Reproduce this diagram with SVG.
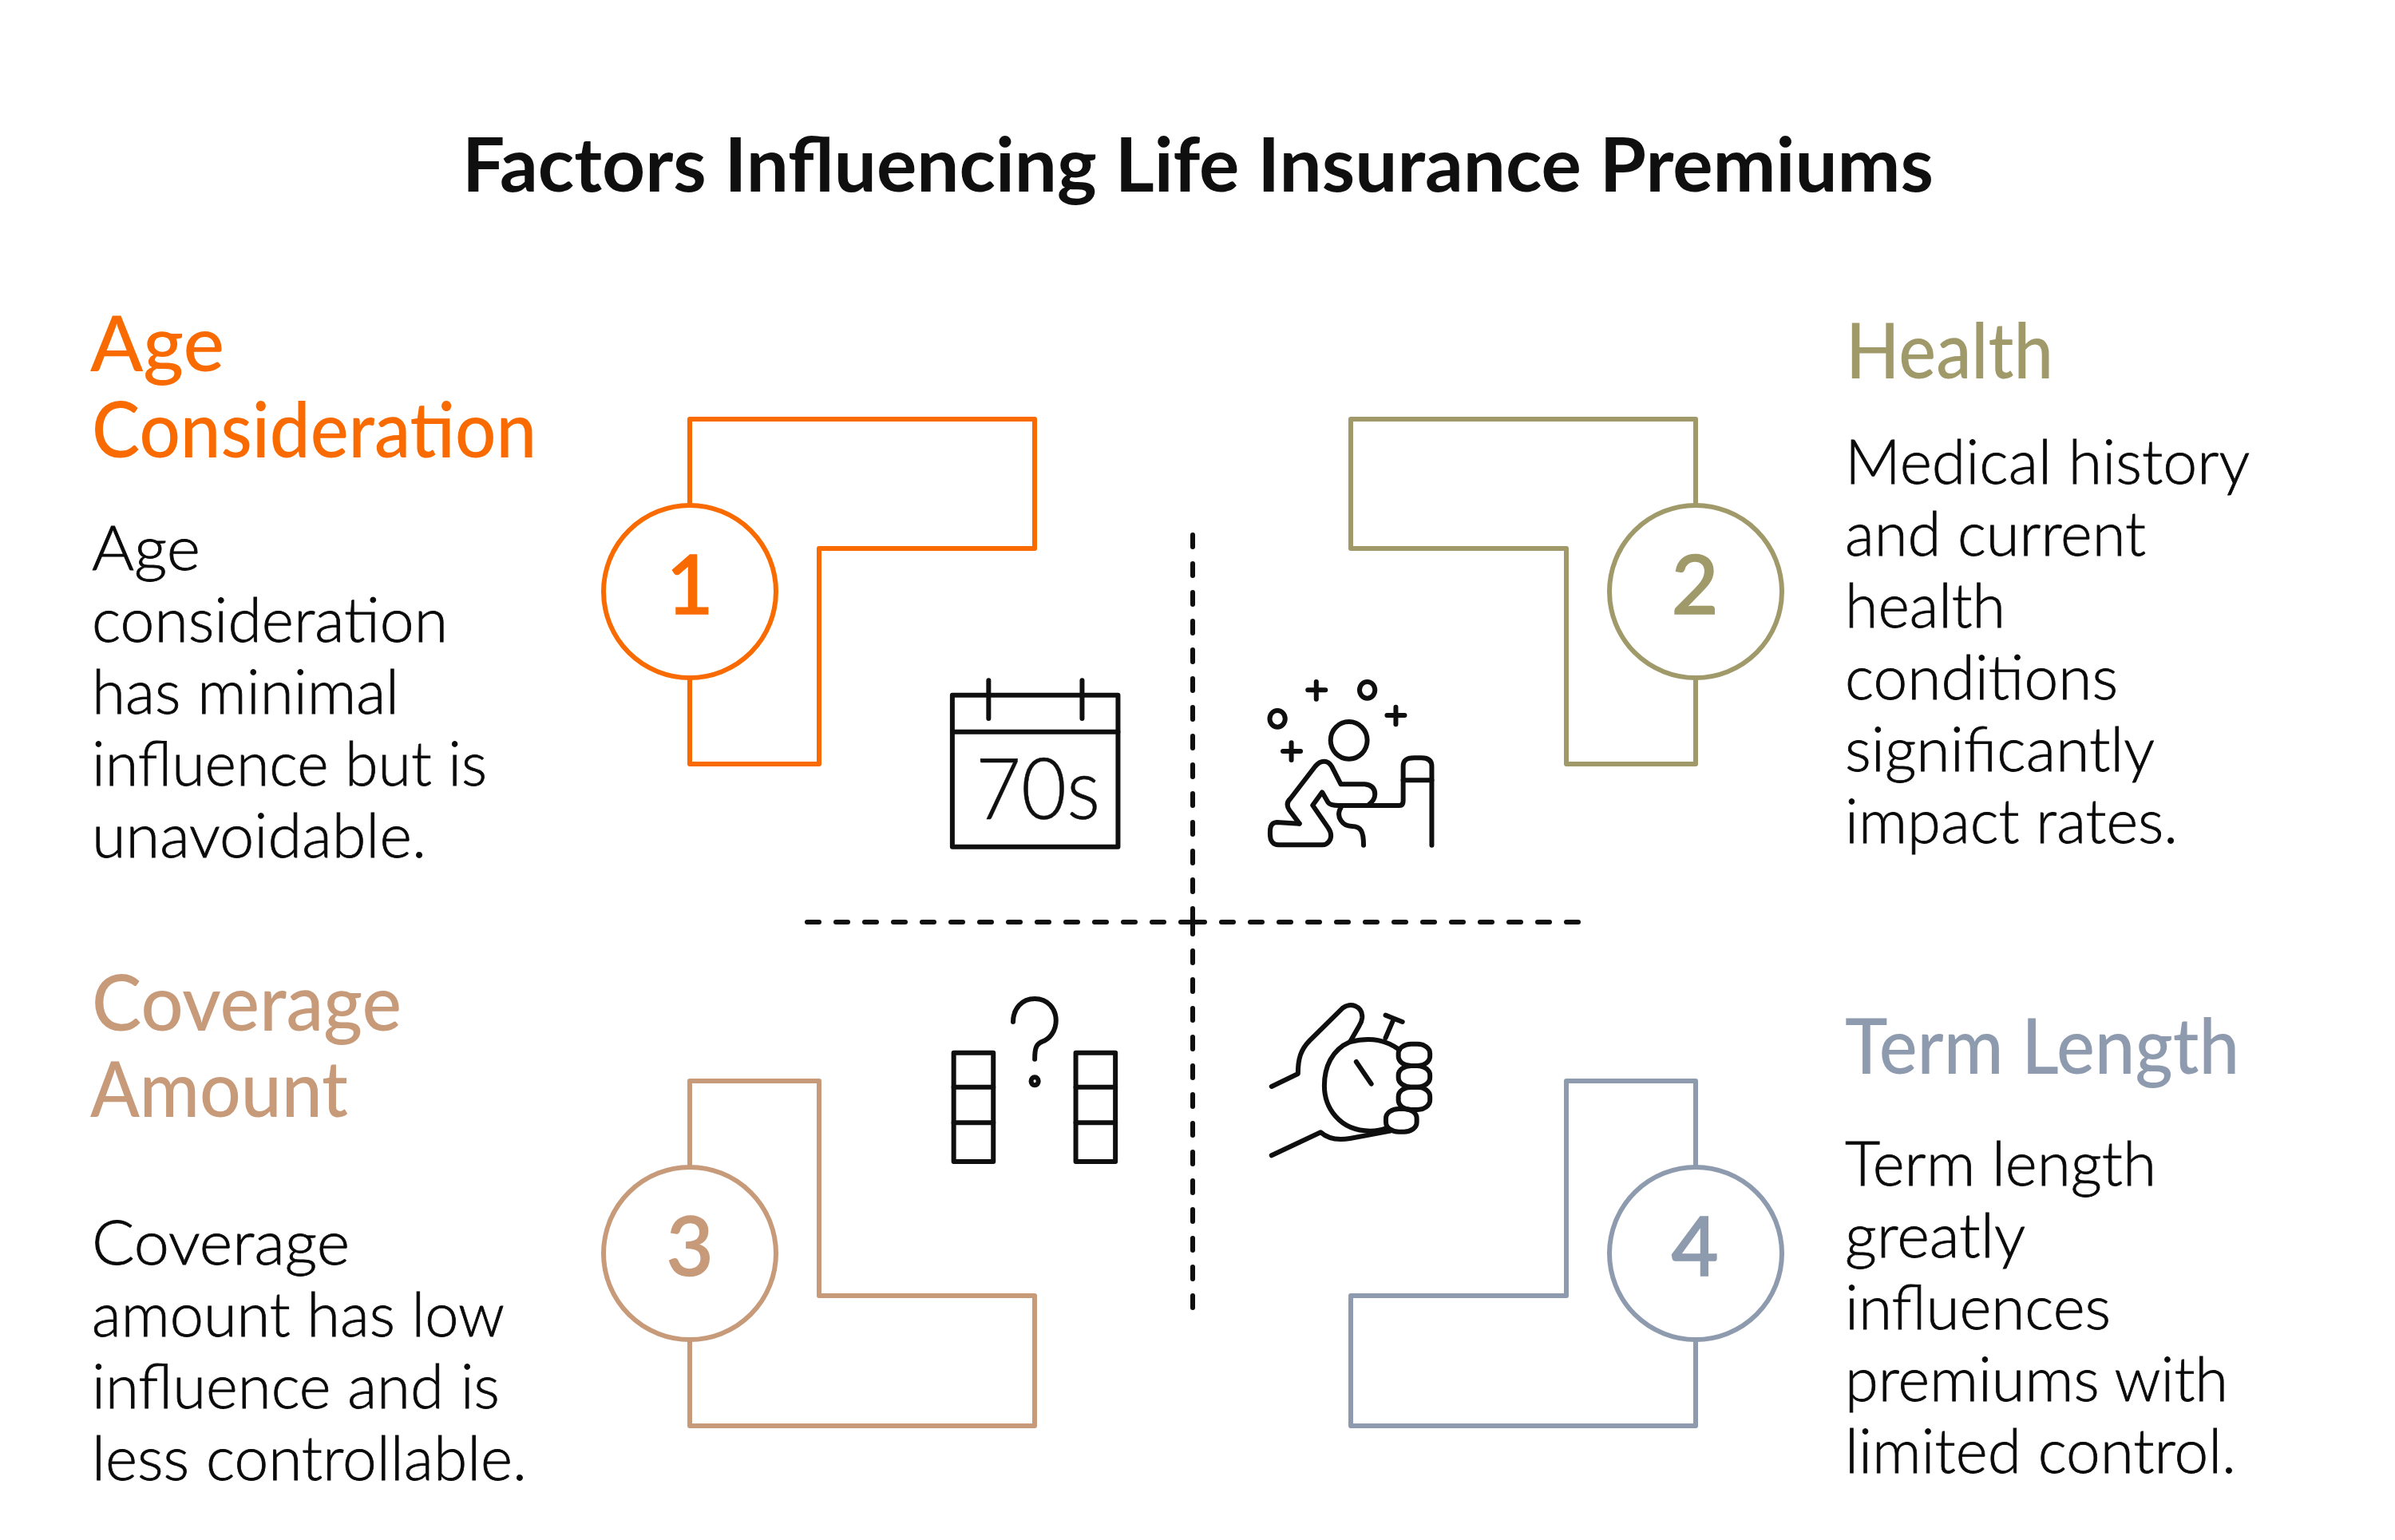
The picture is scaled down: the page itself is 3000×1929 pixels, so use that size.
<svg xmlns="http://www.w3.org/2000/svg" width="3000" height="1929" viewBox="0 0 3000 1929">
<style>
text{font-family:"Lato","Noto Sans",sans-serif}
.title{font-size:94px;font-weight:700;fill:#0f0f0f}
.head{font-size:96px;font-weight:500}
.body{font-size:76px;font-weight:300;fill:#0a0a0a;stroke:#0a0a0a;stroke-width:.8}
.num{font-size:102px;text-anchor:middle;font-weight:500;stroke-width:1.5}
.o{fill:#F96A00;stroke:#F96A00}.g{fill:#A09A6B;stroke:#A09A6B}.t{fill:#C79A7A;stroke:#C79A7A}.s{fill:#8E9BAE;stroke:#8E9BAE}
.head.o,.head.g,.head.t,.head.s{stroke:none}
.shape{fill:none;stroke-width:6;stroke-linejoin:round}
.circ{fill:#fff;stroke-width:6}
.ic{fill:none;stroke:#0f0f0f;stroke-width:6;stroke-linecap:round;stroke-linejoin:round}
.ic *{vector-effect:non-scaling-stroke}
.dash{fill:none;stroke:#0f0f0f;stroke-width:6;stroke-dasharray:15 21;stroke-linecap:round}
</style>
<rect width="3000" height="1929" fill="#fff"/>
<text class="title" x="579" y="240" textLength="1843" lengthAdjust="spacingAndGlyphs">Factors Influencing Life Insurance Premiums</text>

<g id="connectors">
<path class="dash" d="M1494 670V1152"/>
<path class="dash" d="M1494 1155V1638"/>
<path class="dash" d="M1011 1155H1494"/>
<path class="dash" d="M1494 1155H1977"/>
</g>

<g id="node1">
<path class="shape" stroke="#F96A00" d="M864 957V525H1296V687H1026V957Z"/>
<circle class="circ" cx="864" cy="741" r="108" stroke="#F96A00"/>
<text class="num o" x="864" y="769">1</text>
<text class="head o" x="113" y="465" textLength="168" lengthAdjust="spacingAndGlyphs">Age</text>
<text class="head o" x="115" y="573" textLength="557" lengthAdjust="spacingAndGlyphs">Consideration</text>
<text class="body" x="115" y="714" textLength="136" lengthAdjust="spacingAndGlyphs">Age</text>
<text class="body" x="115" y="804" textLength="446" lengthAdjust="spacingAndGlyphs">consideration</text>
<text class="body" x="115" y="894" textLength="385" lengthAdjust="spacingAndGlyphs">has minimal</text>
<text class="body" x="115" y="984" textLength="495" lengthAdjust="spacingAndGlyphs">influence but is</text>
<text class="body" x="115" y="1074" textLength="419" lengthAdjust="spacingAndGlyphs">unavoidable.</text>
</g>

<g id="node2">
<path class="shape" stroke="#A09A6B" d="M2124 957V525H1692V687H1962V957Z"/>
<circle class="circ" cx="2124" cy="741" r="108" stroke="#A09A6B"/>
<text class="num g" x="2123" y="769">2</text>
<text class="head g" x="2312" y="474" textLength="260" lengthAdjust="spacingAndGlyphs">Health</text>
<text class="body" x="2311" y="606" textLength="507" lengthAdjust="spacingAndGlyphs">Medical history</text>
<text class="body" x="2311" y="696" textLength="377" lengthAdjust="spacingAndGlyphs">and current</text>
<text class="body" x="2311" y="786" textLength="201" lengthAdjust="spacingAndGlyphs">health</text>
<text class="body" x="2311" y="876" textLength="342" lengthAdjust="spacingAndGlyphs">conditions</text>
<text class="body" x="2311" y="966" textLength="388" lengthAdjust="spacingAndGlyphs">significantly</text>
<text class="body" x="2311" y="1056" textLength="417" lengthAdjust="spacingAndGlyphs">impact rates.</text>
</g>

<g id="node3">
<path class="shape" stroke="#C79A7A" d="M864 1786V1354H1026V1623H1296V1786Z"/>
<circle class="circ" cx="864" cy="1570" r="108" stroke="#C79A7A"/>
<text class="num t" x="864" y="1598">3</text>
<text class="head t" x="115" y="1291" textLength="388" lengthAdjust="spacingAndGlyphs">Coverage</text>
<text class="head t" x="113" y="1399" textLength="323" lengthAdjust="spacingAndGlyphs">Amount</text>
<text class="body" x="115" y="1584" textLength="323" lengthAdjust="spacingAndGlyphs">Coverage</text>
<text class="body" x="115" y="1674" textLength="517" lengthAdjust="spacingAndGlyphs">amount has low</text>
<text class="body" x="115" y="1764" textLength="511" lengthAdjust="spacingAndGlyphs">influence and is</text>
<text class="body" x="115" y="1854" textLength="545" lengthAdjust="spacingAndGlyphs">less controllable.</text>
</g>

<g id="node4">
<path class="shape" stroke="#8E9BAE" d="M2124 1786V1354H1962V1623H1692V1786Z"/>
<circle class="circ" cx="2124" cy="1570" r="108" stroke="#8E9BAE"/>
<text class="num s" x="2123" y="1598">4</text>
<text class="head s" x="2311" y="1345" textLength="494" lengthAdjust="spacingAndGlyphs">Term Length</text>
<text class="body" x="2311" y="1485" textLength="390" lengthAdjust="spacingAndGlyphs">Term length</text>
<text class="body" x="2311" y="1575" textLength="226" lengthAdjust="spacingAndGlyphs">greatly</text>
<text class="body" x="2311" y="1665" textLength="333" lengthAdjust="spacingAndGlyphs">influences</text>
<text class="body" x="2311" y="1755" textLength="480" lengthAdjust="spacingAndGlyphs">premiums with</text>
<text class="body" x="2311" y="1845" textLength="490" lengthAdjust="spacingAndGlyphs">limited control.</text>
</g>

<g id="icon-calendar">
<g class="ic" transform="translate(1141 820) scale(.4592 .3333)">
<rect x="113" y="152" width="452" height="570"/>
<path d="M113 290H565M212 97V240M467 97V240"/>
</g>
<text x="1222" y="1026" font-size="106" font-weight="300" fill="#0f0f0f" stroke="#0f0f0f" stroke-width=".6" textLength="156" lengthAdjust="spacingAndGlyphs">70s</text>
</g>

<g id="icon-health">
<g class="ic" transform="translate(1140 820) scale(.4592 .3333)">
<path d="M1085 133H1133M1108 102V167M1301 228H1349M1325 197V262M1017 363H1065M1040 331V396"/>
<ellipse cx="1247" cy="133" rx="21" ry="31"/>
<ellipse cx="1002" cy="241" rx="21" ry="31"/>
<ellipse cx="1197" cy="322" rx="50" ry="70"/>
<path d="M1062 635L1000 630C980 632 982 660 982 675C982 700 990 715 1005 715H1125C1140 715 1148 695 1148 680C1148 665 1145 660 1140 650L1098 566L1124 517L1140 555C1145 565 1155 567 1170 567H1335C1345 567 1345 555 1345 550V420C1345 395 1355 388 1375 388H1395C1415 388 1423 400 1423 420V716"/>
<path d="M1345 472H1423"/>
<path d="M1062 635L1035 585C1025 565 1030 550 1038 540L1105 420C1120 395 1140 395 1150 420L1175 487H1240C1260 490 1268 505 1268 525C1268 545 1260 555 1250 565"/>
<path d="M1175 575C1160 610 1180 645 1205 645C1230 645 1237 665 1237 716"/>
</g>
</g>

<g id="icon-coverage">
<g class="ic" transform="translate(1140 1220) scale(.4592 .3333)">
<rect x="119" y="296" width="108" height="409"/>
<rect x="452" y="296" width="108" height="409"/>
<path d="M119 425H227M119 559H227M452 425H560M452 559H560"/>
<path d="M281 180C281 130 305 93 340 93C375 93 398 130 398 175C398 215 380 245 362 253C345 262 340 275 340 320"/>
<ellipse cx="340" cy="403" rx="10" ry="15"/>
</g>
</g>

<g id="icon-term">
<g class="ic" transform="translate(1140 1220) scale(.4592 .3333)">
<path d="M1335 285C1300 250 1260 235 1200 255C1150 285 1130 350 1130 420C1130 500 1170 590 1255 590Q1280 590 1300 578"/>
<path d="M986 423L1058 375C1058 320 1065 285 1090 250L1180 128C1200 105 1235 120 1233 165Q1232 180 1225 195L1200 255"/>
<path d="M1297 240L1318 173M1297 155L1343 180M1217 330L1258 413"/>
<rect x="1332" y="263" width="86" height="82" rx="35" ry="35"/>
<rect x="1332" y="345" width="86" height="80" rx="35" ry="35"/>
<rect x="1332" y="425" width="86" height="85" rx="35" ry="35"/>
<rect x="1298" y="507" width="84" height="86" rx="35" ry="35"/>
<path d="M986 682L1120 595C1140 620 1170 625 1200 618L1310 590"/>
</g>
</g>
</svg>
